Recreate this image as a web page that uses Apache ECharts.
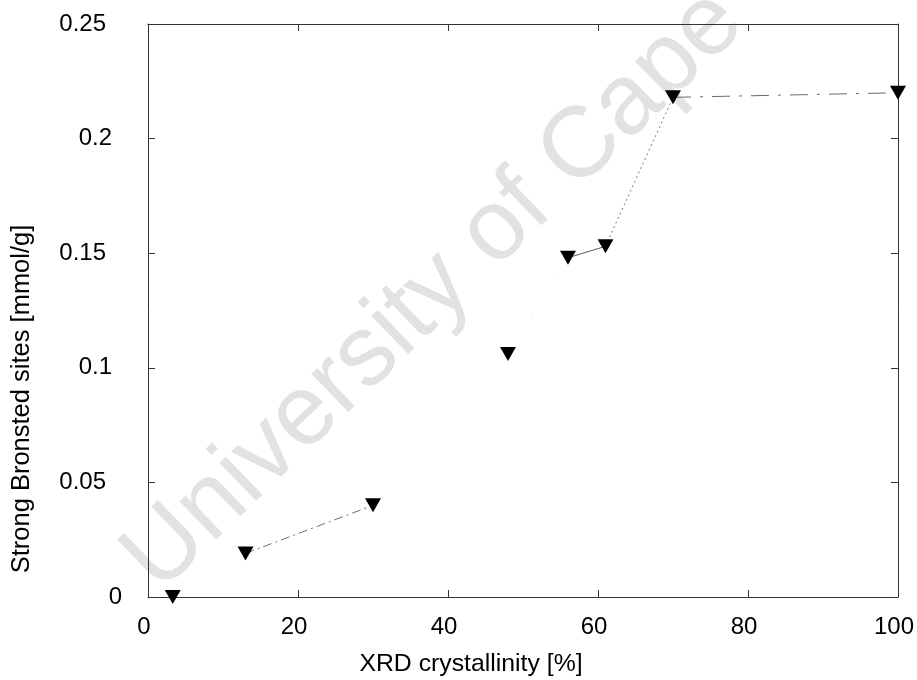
<!DOCTYPE html>
<html>
<head>
<meta charset="utf-8">
<title>Strong Bronsted sites vs XRD crystallinity</title>
<script src="https://cdn.jsdelivr.net/npm/echarts@6/dist/echarts.min.js"></script>
<style>
  html, body { margin: 0; padding: 0; background: #ffffff; }
  #chart { width: 917px; height: 680px; }
</style>
</head>
<body>
<div id="chart"></div>
<script>
// Measured samples: XRD crystallinity [%] and strong Bronsted acid sites [mmol/g]
const crystallinity = [3.3, 13, 30, 48, 56, 61, 70, 100];
const strongBronsted = [0, 0.019, 0.04, 0.106, 0.148, 0.153, 0.218, 0.22];

// Axis tick positions
const xTicks = [0, 20, 40, 60, 80, 100];
const yTicks = [0, 0.05, 0.1, 0.15, 0.2, 0.25];

// Axis titles and watermark
const xTitle = 'XRD crystallinity [%]';
const yTitle = 'Strong Bronsted sites [mmol/g]';
const watermark = 'University of Cape Town';

// Links between consecutive samples: [from index, to index, line style]
const links = [
  [1, 2, 'dashdot'],
  [3, 4, 'faint'],
  [4, 5, 'solid'],
  [5, 6, 'dotted'],
  [6, 7, 'longdash']
];
</script>
<script>
const FONT = 'Liberation Sans, Arial, Helvetica, sans-serif';

const lineStyles = {
  dashdot:  { color: '#707070', width: 1, type: [9, 4, 2, 4] },
  faint:    { color: '#cccccc', width: 1, type: [1, 45] },
  solid:    { color: '#5c5c5c', width: 1, type: 'solid' },
  dotted:   { color: '#7c7c7c', width: 1, type: [2, 3] },
  longdash: { color: '#6a6a6a', width: 1, type: [18, 9, 3, 9] }
};

const linkSeries = links.map(function (l) {
  return {
    type: 'line',
    data: [
      [crystallinity[l[0]], strongBronsted[l[0]]],
      [crystallinity[l[1]], strongBronsted[l[1]]]
    ],
    symbol: 'none',
    lineStyle: lineStyles[l[2]],
    silent: true,
    clip: false,
    z: 2
  };
});

const points = crystallinity.map(function (x, i) { return [x, strongBronsted[i]]; });

function yLabel(v) {
  const s = String(+v.toFixed(2));
  const key = s.length >= 4 ? 'w4' : (s.length === 3 ? 'w3' : 'w1');
  return '{' + key + '|' + s + '}';
}

const labelBase = { fontFamily: FONT, fontSize: 24, color: '#000' };

function frameAxis(position, showLabels, labelOpts) {
  return {
    type: 'value',
    position: position,
    axisLine: { show: true, onZero: false, lineStyle: { color: '#333', width: 1 } },
    axisTick: { show: true, inside: true, length: 7, lineStyle: { color: '#333', width: 1 } },
    splitLine: { show: false },
    axisLabel: showLabels ? labelOpts : { show: false }
  };
}

const xBottom = Object.assign(frameAxis('bottom', true,
  Object.assign({ margin: 18, padding: [0, 8, 0, 0] }, labelBase)), {
  min: xTicks[0], max: xTicks[xTicks.length - 1], interval: xTicks[1] - xTicks[0]
});
const xTop = Object.assign(frameAxis('top', false), {
  min: xTicks[0], max: xTicks[xTicks.length - 1], interval: xTicks[1] - xTicks[0]
});
const yLeft = Object.assign(frameAxis('left', true, Object.assign({
  margin: 26,
  formatter: yLabel,
  rich: {
    w4: Object.assign({ padding: [0, 16, 0, 0] }, labelBase),
    w3: Object.assign({ padding: [0, 10, 0, 0] }, labelBase),
    w1: Object.assign({}, labelBase)
  }
}, labelBase)), {
  min: yTicks[0], max: yTicks[yTicks.length - 1], interval: yTicks[1] - yTicks[0]
});
const yRight = Object.assign(frameAxis('right', false), {
  min: yTicks[0], max: yTicks[yTicks.length - 1], interval: yTicks[1] - yTicks[0]
});

const chart = echarts.init(document.getElementById('chart'), null, { renderer: 'canvas' });

chart.setOption({
  animation: false,
  backgroundColor: '#ffffff',
  grid: { left: 148, top: 24, right: 14, bottom: 83, containLabel: false },
  xAxis: [xBottom, xTop],
  yAxis: [yLeft, yRight],
  graphic: [
    {
      type: 'text', z: -10, silent: true,
      x: 528, y: 200, rotation: 44 * Math.PI / 180,
      style: {
        text: watermark, fontFamily: FONT, fontSize: 100,
        fill: '#e2e2e2', align: 'center', verticalAlign: 'middle'
      }
    },
    {
      type: 'text', silent: true,
      x: 22, y: 399, rotation: Math.PI / 2,
      style: {
        text: yTitle, fontFamily: FONT, fontSize: 25.5,
        fill: '#000', align: 'center', verticalAlign: 'middle'
      }
    },
    {
      type: 'text', silent: true,
      x: 471, y: 664,
      style: {
        text: xTitle, fontFamily: FONT, fontSize: 24.8,
        fill: '#000', align: 'center', verticalAlign: 'middle'
      }
    }
  ],
  series: linkSeries.concat([
    {
      type: 'scatter',
      data: points,
      symbol: 'triangle',
      symbolRotate: 180,
      symbolSize: [16, 14],
      itemStyle: { color: '#000', opacity: 1 },
      clip: false,
      silent: true,
      z: 5
    }
  ])
});
</script>
</body>
</html>
